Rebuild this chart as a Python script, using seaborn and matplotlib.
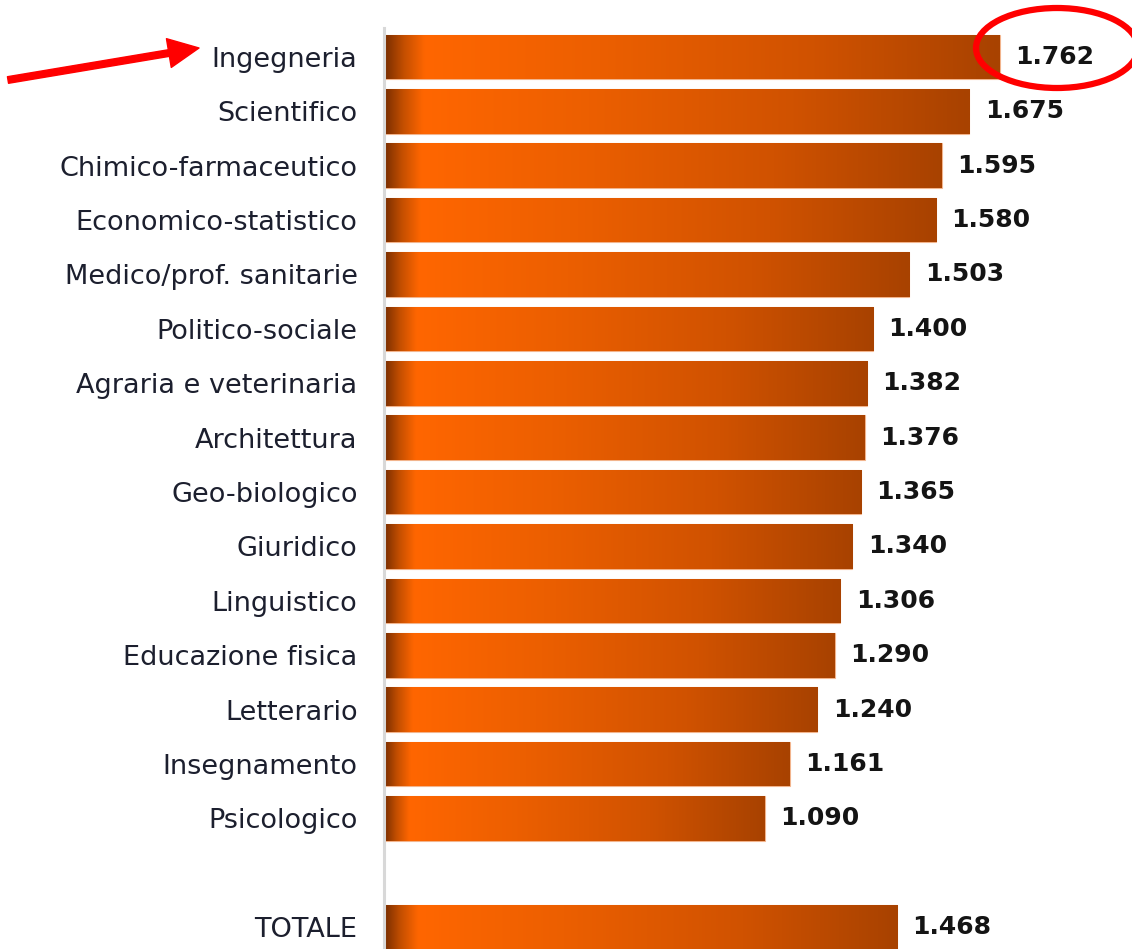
import numpy as np
import pandas as pd
import matplotlib
matplotlib.use('Agg')
import matplotlib.pyplot as plt
from matplotlib.colors import LinearSegmentedColormap
from matplotlib.patches import Ellipse
import seaborn as sns

# Values (thousands separator is a period in the original)
fields = ['Ingegneria', 'Scientifico', 'Chimico-farmaceutico', 'Economico-statistico',
          'Medico/prof. sanitarie', 'Politico-sociale', 'Agraria e veterinaria',
          'Architettura', 'Geo-biologico', 'Giuridico', 'Linguistico',
          'Educazione fisica', 'Letterario', 'Insegnamento', 'Psicologico']
values = [1762, 1675, 1595, 1580, 1503, 1400, 1382, 1376, 1365, 1340,
          1306, 1290, 1240, 1161, 1090]
total_label = 'TOTALE'
total_value = 1468

df = pd.DataFrame({'gruppo': fields + [total_label], 'valore': values + [total_value]})
order = fields + [' '] + [total_label]   # blank slot makes the gap before TOTALE

sns.set_style('white')
plt.rcParams['font.family'] = ['DejaVu Sans']

fig = plt.figure(figsize=(11.32, 9.49), dpi=100)
ax = fig.add_axes([384 / 1132, 0, 1 - 384 / 1132, 921 / 949])

sns.barplot(data=df, x='valore', y='gruppo', order=order, orient='h',
            color='#e85f00', width=0.82, ax=ax)

# gradient fill for every bar: dark lip, bright orange, fading to brown
grad = LinearSegmentedColormap.from_list('bar', [
    (0.0, '#7a2e00'), (0.03, '#c24e00'), (0.065, '#ff6600'),
    (0.35, '#ec5f00'), (0.7, '#d05200'), (1.0, '#a84200')])
ramp = np.linspace(0, 1, 256).reshape(1, -1)
for p in ax.patches:
    x0, y0, w, h = p.get_x(), p.get_y(), p.get_width(), p.get_height()
    if not np.isfinite(w) or w == 0:
        continue
    p.set_facecolor('none')
    p.set_edgecolor('#f2b48c')
    p.set_linewidth(0.8)
    im = ax.imshow(ramp, cmap=grad, aspect='auto', extent=[x0, x0 + w, y0 + h, y0],
                   zorder=1, interpolation='bilinear')
    im.set_clip_path(p)
    ax.annotate(f'{int(round(w)):,}'.replace(',', '.'), (w, y0 + h / 2),
                xytext=(11, 0), textcoords='offset points', va='center', ha='left',
                fontsize=18, fontweight='bold', color='#141414')

ax.set_xlim(0, 2140)
ax.set_ylim(16.4, -0.53)

ax.set_xlabel('')
ax.set_ylabel('')
ax.set_xticks([])
ax.tick_params(axis='y', length=0, pad=19, labelsize=19.5, labelcolor='#1c1f2e')
for s in ['top', 'right', 'bottom']:
    ax.spines[s].set_visible(False)
ax.spines['left'].set_color('#d8d8d8')
ax.spines['left'].set_linewidth(2.2)

# overlay in pixel coordinates for the red highlight marks
ov = fig.add_axes([0, 0, 1, 1], zorder=5)
ov.set_xlim(0, 1132)
ov.set_ylim(949, 0)
ov.axis('off')
ov.patch.set_alpha(0)
ov.annotate('', xy=(199, 48), xytext=(8, 80),
            arrowprops=dict(arrowstyle='simple,head_length=1.1,head_width=1.05,tail_width=0.24',
                            mutation_scale=20, color='#ff0000', shrinkA=0, shrinkB=0))
ov.add_patch(Ellipse((1057, 48), 162, 80, fill=False, edgecolor='#ff0000', linewidth=4.5))

fig.savefig('out.png', dpi=100)
